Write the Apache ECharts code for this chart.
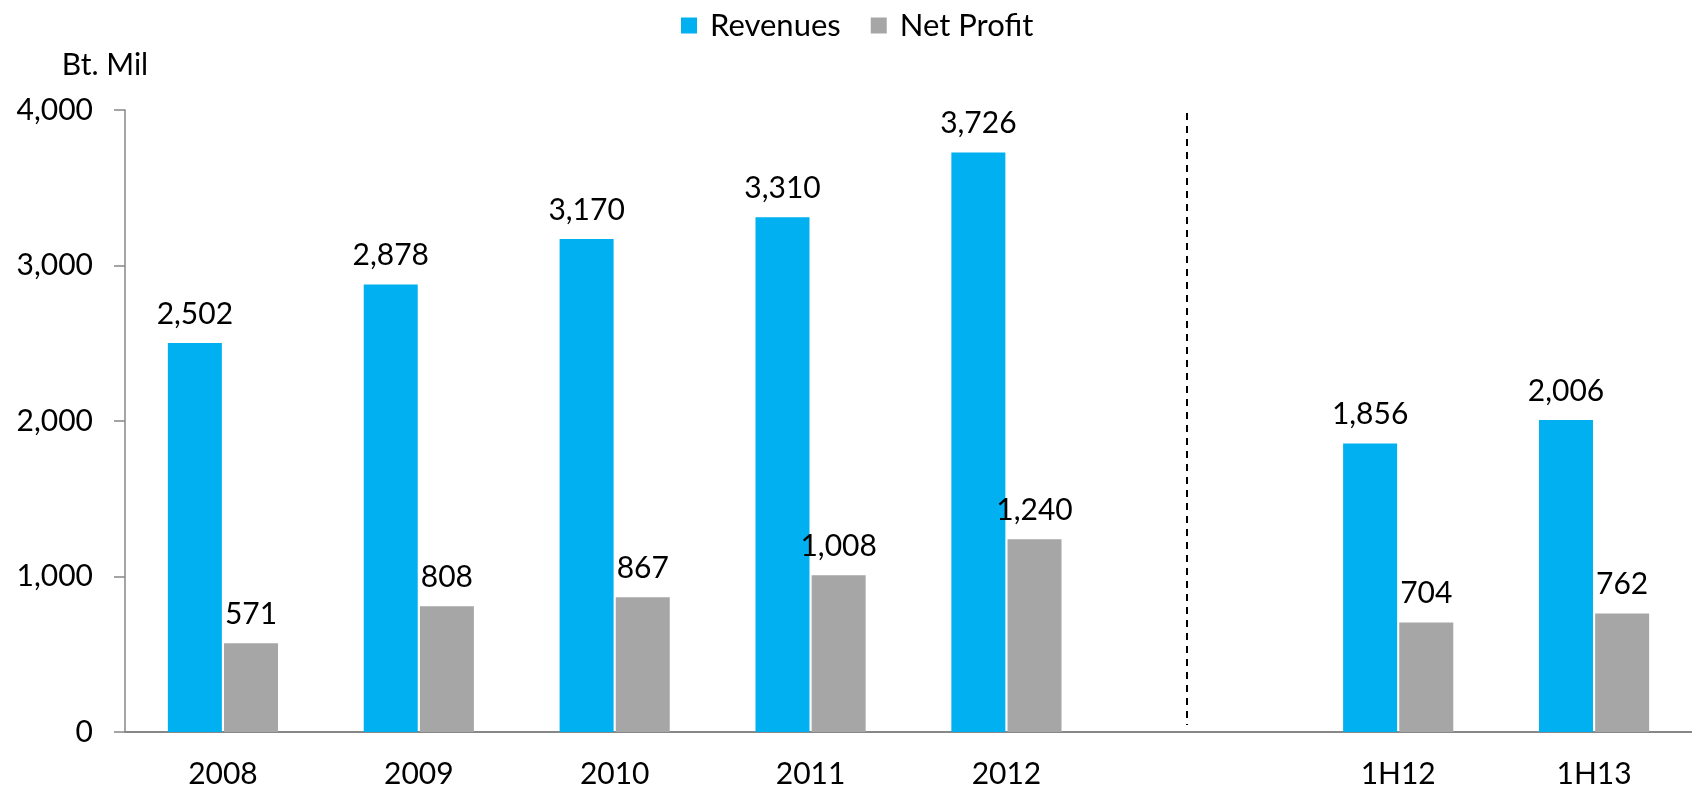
<!DOCTYPE html>
<html>
<head>
<meta charset="utf-8">
<script src="https://cdn.jsdelivr.net/npm/echarts@6/dist/echarts.min.js"></script>
<style>
html,body{margin:0;padding:0;background:#fff;}
#chart{width:1692px;height:791px;}
</style>
</head>
<body>
<div id="chart"></div>
<script>
const categories = ['2008', '2009', '2010', '2011', '2012', '', '1H12', '1H13'];
const revenues = [2502, 2878, 3170, 3310, 3726, null, 1856, 2006];
const netProfit = [571, 808, 867, 1008, 1240, null, 704, 762];
const yTicks = [0, 1000, 2000, 3000, 4000];
const dividerPos = 5.42;      // between 2012 and 1H12, in category units
const dividerRange = [45, 3980];

const FONT = 'Lato';
const FS = 30;
const fmt = v => Number(v).toLocaleString('en-US');

const chart = echarts.init(document.getElementById('chart'));
chart.setOption({
  animation: false,
  textStyle: { fontFamily: FONT },
  legend: {
    left: 676, top: 5,
    itemWidth: 16, itemHeight: 16, itemGap: 30,
    icon: 'rect',
    textStyle: { fontFamily: FONT, fontSize: 31, color: '#000', padding: [0, 0, 0, 8] },
    data: ['Revenues', 'Net Profit']
  },
  grid: { left: 125, top: 110, bottom: 59, width: 1569, containLabel: false },
  xAxis: [{
    type: 'category',
    data: categories,
    axisLine: { lineStyle: { color: '#878787', width: 2 } },
    axisTick: { show: false },
    axisLabel: { fontFamily: FONT, fontSize: FS, color: '#000', margin: 27 }
  }, {
    type: 'value', min: 0, max: categories.length, show: false
  }],
  yAxis: {
    type: 'value', min: yTicks[0], max: yTicks[yTicks.length - 1], interval: 1000,
    name: 'Bt. Mil',
    nameLocation: 'end',
    nameGap: 30,
    nameTextStyle: { fontFamily: FONT, fontSize: FS, color: '#000', align: 'center', padding: [0, 40, 0, 0] },
    splitLine: { show: false },
    axisLine: { show: true, lineStyle: { color: '#878787', width: 1.5 } },
    axisTick: { show: true, length: 11, lineStyle: { color: '#878787', width: 1.5 } },
    axisLabel: { fontFamily: FONT, fontSize: FS, color: '#000', margin: 32, formatter: fmt }
  },
  series: [{
    name: 'Revenues', type: 'bar', data: revenues,
    barWidth: 54, barGap: '4%',
    itemStyle: { color: '#00B0F0' },
    label: { show: true, position: 'top', distance: 14, fontFamily: FONT, fontSize: FS, color: '#000', formatter: p => fmt(p.value) }
  }, {
    name: 'Net Profit', type: 'bar', data: netProfit,
    barWidth: 54,
    itemStyle: { color: '#A6A6A6' },
    label: { show: true, position: 'top', distance: 14, fontFamily: FONT, fontSize: FS, color: '#000', formatter: p => fmt(p.value) }
  }, {
    name: 'divider', type: 'line', xAxisIndex: 1, data: [],
    markLine: {
      silent: true, symbol: 'none', label: { show: false },
      lineStyle: { color: '#000', type: [7, 6], width: 2 },
      data: [[{ coord: [dividerPos, dividerRange[1]] }, { coord: [dividerPos, dividerRange[0]] }]]
    }
  }]
});
</script>
</body>
</html>
